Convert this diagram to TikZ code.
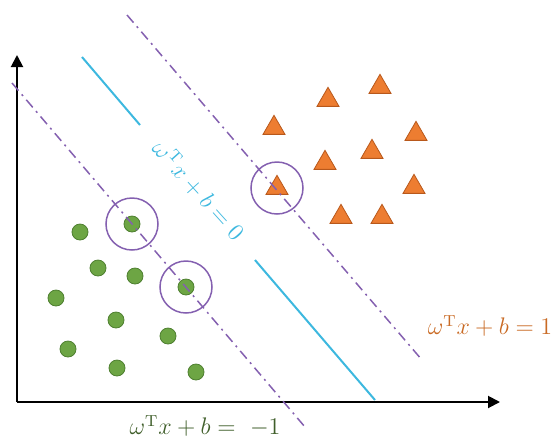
\documentclass[tikz,border=0pt]{standalone}
\usepackage{amsmath,amssymb}
\usepackage{tikz}
\usetikzlibrary{arrows.meta,shapes.geometric}
\definecolor{leafgreen}{HTML}{6DA544}
\definecolor{leafedge}{HTML}{4E7F30}
\definecolor{ember}{HTML}{ED7D31}
\definecolor{emberedge}{HTML}{B8581B}
\definecolor{skyline}{HTML}{3DB8DF}
\definecolor{violet}{HTML}{8460B0}
\definecolor{rustlabel}{HTML}{C96A24}
\definecolor{mosslabel}{HTML}{3F5E2A}

\begin{document}
\begin{tikzpicture}[x=0.5pt, y=-0.5pt,
    gdot/.style={circle, fill=leafgreen, draw=leafedge, line width=0.4pt, minimum size=8pt, inner sep=0pt},
    otri/.style={regular polygon, regular polygon sides=3, fill=ember, draw=emberedge, line width=0.4pt, minimum size=12.7pt, inner sep=0pt},
    svring/.style={circle, draw=violet, line width=0.75pt, minimum size=26pt, inner sep=0pt},
    margin/.style={violet, line width=0.75pt, dash pattern=on 5pt off 2.5pt on 1pt off 2.5pt},
    eqlabel/.style={font=\fontsize{12}{14}\selectfont, inner sep=1pt}]
    \useasboundingbox (0,0) rectangle (553,441);

    % Axes
    \coordinate (O) at (17,402);
    \coordinate (ytip) at (17,55);
    \coordinate (xtip) at (500,402);
    \draw[line width=1pt, -{Triangle[length=6pt,width=6pt]}] (O) -- (ytip);
    \draw[line width=1pt, -{Triangle[length=6pt,width=6pt]}] (O) -- (xtip);

    % Green class
    \node[gdot] (g1) at (132,224) {};
    \node[gdot] (g2) at (186,287) {};
    \node[gdot] (g3) at (80,232) {};
    \node[gdot] (g4) at (98,268) {};
    \node[gdot] (g5) at (135,276) {};
    \node[gdot] (g6) at (56,298) {};
    \node[gdot] (g7) at (116,320) {};
    \node[gdot] (g8) at (168,336) {};
    \node[gdot] (g9) at (68,349) {};
    \node[gdot] (g10) at (117,368) {};
    \node[gdot] (g11) at (196,372) {};

    % Orange class
    \node[otri] (t1) at (277,188) {};
    \node[otri] (t2) at (328,100) {};
    \node[otri] (t3) at (380,87) {};
    \node[otri] (t4) at (274,128) {};
    \node[otri] (t5) at (416,134) {};
    \node[otri] (t6) at (372,152) {};
    \node[otri] (t7) at (325,163) {};
    \node[otri] (t8) at (414,187) {};
    \node[otri] (t9) at (341,217) {};
    \node[otri] (t10) at (382,217) {};

    % Margins
    \coordinate (upA) at (127,15);
    \coordinate (upB) at (422,360);
    \coordinate (loA) at (12,83);
    \coordinate (loB) at (305,427);
    \draw[margin] (upA) -- (upB);
    \draw[margin] (loA) -- (loB);

    % Separating line
    \coordinate (hpA) at (82,57);
    \coordinate (hpB) at (140,125);
    \coordinate (hpC) at (255,260);
    \coordinate (hpD) at (375,400);
    \draw[skyline, line width=1pt] (hpA) -- (hpB);
    \draw[skyline, line width=1pt] (hpC) -- (hpD);

    % Support vectors
    \node[svring] (s1) at (g1) {};
    \node[svring] (s2) at (g2) {};
    \node[svring] (s3) at (t1) {};

    % Labels
    \node[eqlabel, skyline, rotate=-48] (lzero) at (199,190) {$\omega^{\mathrm{T}}x+b=0$};
    \node[eqlabel, rustlabel] (lplus) at (490,326) {$\omega^{\mathrm{T}}x+b=1$};
    \node[eqlabel, mosslabel] (lminus) at (205,426) {$\omega^{\mathrm{T}}x+b=\ -1$};

\end{tikzpicture}
\end{document}
